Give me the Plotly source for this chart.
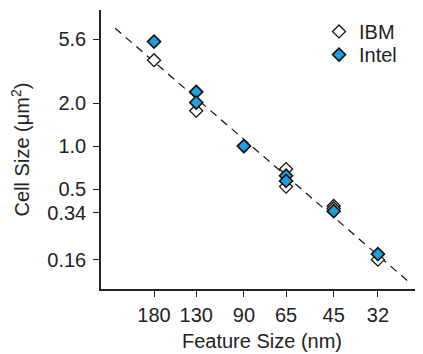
import math
import plotly.graph_objects as go

# Data
ibm_feature = [180, 130, 90, 65, 65, 45, 45, 32]
ibm_cell = [4.0, 1.77, 1.0, 0.69, 0.52, 0.38, 0.365, 0.16]
intel_feature = [180, 130, 130, 90, 65, 65, 45, 32]
intel_cell = [5.4, 2.4, 2.02, 1.0, 0.62, 0.57, 0.35, 0.175]
trend_feature = [243, 25]
trend_cell = [6.7, 0.11]
x_ticks = [180, 130, 90, 65, 45, 32]
y_ticks = [0.16, 0.34, 0.5, 1.0, 2.0, 5.6]
y_tick_labels = ["0.16", "0.34", "0.5", "1.0", "2.0", "5.6"]

FONT = "Liberation Sans, Arial, sans-serif"
TXT = "#222222"
FS = 20

fig = go.Figure()
fig.add_trace(go.Scatter(
    x=trend_feature, y=trend_cell, mode="lines",
    line=dict(color="#111111", width=1.2, dash="8px,6px"),
    showlegend=False, hoverinfo="skip"))
fig.add_trace(go.Scatter(
    x=ibm_feature, y=ibm_cell, mode="markers", name="IBM", legend="legend",
    marker=dict(symbol="diamond", size=10, color="white",
                line=dict(color="#111111", width=1.3))))
fig.add_trace(go.Scatter(
    x=intel_feature, y=intel_cell, mode="markers", name="Intel", legend="legend2",
    marker=dict(symbol="diamond", size=10, color="#1aa0dc",
                line=dict(color="#111111", width=1.6))))

leg_common = dict(xanchor="left", yanchor="top", bgcolor="rgba(0,0,0,0)",
                  font=dict(size=FS, color=TXT), itemwidth=30)

# page body has an 8px margin, so the figure is drawn offset by (8, 8)
fig.update_layout(
    width=415, height=346,
    margin=dict(l=93, r=0, t=2, b=65),
    paper_bgcolor="white", plot_bgcolor="white",
    font=dict(family=FONT, size=FS, color=TXT),
    legend=dict(x=0.677, y=0.993, **leg_common),
    legend2=dict(x=0.677, y=0.910, **leg_common),
    xaxis=dict(
        type="log", range=[math.log10(271), math.log10(22.6)],
        tickvals=x_ticks, ticktext=[str(v) for v in x_ticks],
        showgrid=False, zeroline=False, showline=True, linecolor="#222222",
        linewidth=1.5, ticks="outside", ticklen=6, tickcolor="#222222",
        tickwidth=1.3, tickfont=dict(size=FS, color=TXT), ticklabelstandoff=1,
        title=dict(text="Feature Size (nm)", font=dict(size=FS, color=TXT), standoff=9)),
    yaxis=dict(
        type="log", range=[math.log10(0.0996), math.log10(8.99)],
        tickvals=y_ticks, ticktext=y_tick_labels,
        showgrid=False, zeroline=False, showline=True, linecolor="#222222",
        linewidth=1.5, ticks="outside", ticklen=6, tickcolor="#222222",
        tickwidth=1.3, tickfont=dict(size=FS, color=TXT), ticklabelstandoff=3,
        title=dict(text="Cell Size (μm<sup>2</sup>)", font=dict(size=FS, color=TXT), standoff=13)),
)

fig.write_html("out.html")
